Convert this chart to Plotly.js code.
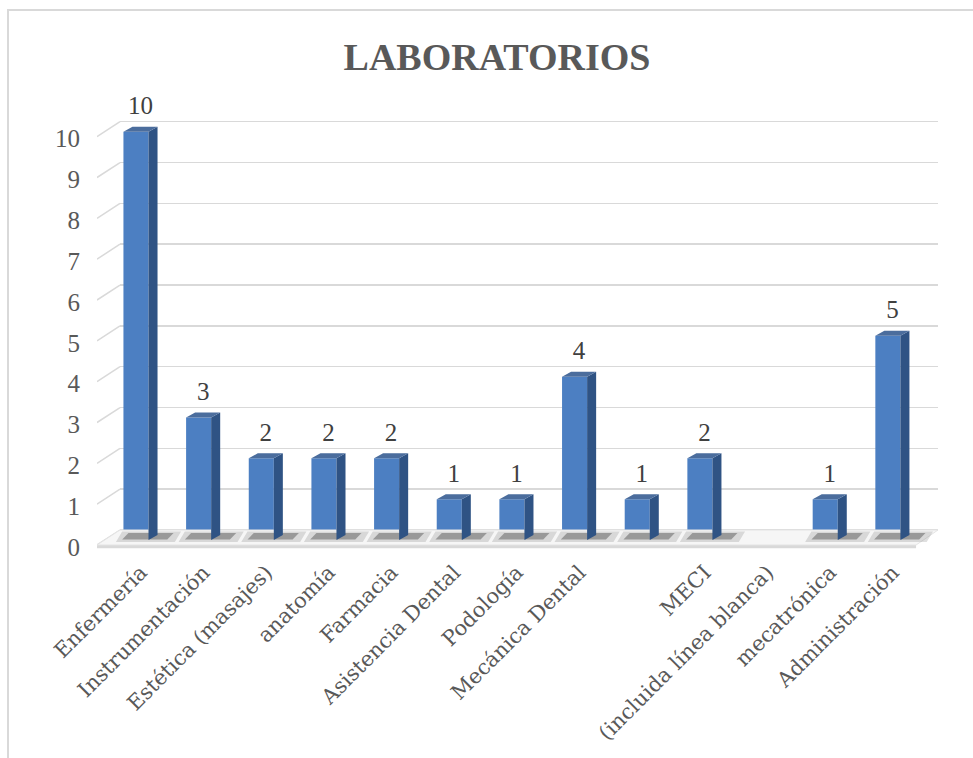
<!DOCTYPE html>
<html>
<head>
<meta charset="utf-8">
<script src="https://cdn.plot.ly/plotly-3.0.1.min.js"></script>
<style>
  html, body { margin: 0; padding: 0; background: #ffffff; }
  #wrap { position: relative; width: 973px; height: 758px; overflow: hidden; }
  #chart { position: absolute; left: 0; top: 0; width: 973px; height: 758px; }
  #frame { position: absolute; left: 7px; top: 9px; width: 1000px; height: 800px;
           border-left: 2px solid #d9d9d9; border-top: 2px solid #d9d9d9; pointer-events: none; }
</style>
</head>
<body>
<div id="wrap">
  <div id="chart"></div>
  <div id="frame"></div>
</div>
<script>
// ---- data ----
const categories = ["Enfermería", "Instrumentación", "Estética (masajes)", "anatomía", "Farmacia",
  "Asistencia Dental", "Podología", "Mecánica Dental", "", "MECI",
  "(incluida línea blanca)", "mecatrónica", "Administración"];
const values = [10, 3, 2, 2, 2, 1, 1, 4, 1, 2, null, 1, 5];
const yTicks = [0, 1, 2, 3, 4, 5, 6, 7, 8, 9, 10];
const chartTitle = "LABORATORIOS";

// ---- styling / geometry ----
const W = 973, H = 758;
const FONT = "Liberation Serif, DejaVu Serif, serif";
const CATFONT = "DejaVu Serif, Liberation Serif, serif";
const barW = 0.4;        // front face width (category units)
const dX = 0.144;        // 3D depth in x (category units)
const dY = 0.122;        // 3D depth in y (value units)
const gridShift = 0.245; // back wall offset (value units)
const lblLift = 0.15;    // extra gap above bar for value labels

const idx = categories.map((_, i) => i);
const px = p => p / W, py = p => 1 - p / H;

const xRange = [-0.622, 12.8];
const yRange = [-0.367, 10.776];
const yGridRange = [yRange[0] - gridShift, yRange[1] - gridShift];

// side & top faces, shadows, labels
const sideX = [], sideY = [], topX = [], topY = [], shX = [], shY = [], sh2X = [], sh2Y = [];
const lblX = [], lblY = [], lblT = [];
idx.forEach(i => {
  const v = values[i];
  if (v === null || v === undefined) return;
  const r = i + barW / 2, l = i - barW / 2;
  sideX.push(r, r + dX, r + dX, r, r, null);
  sideY.push(0, dY, v + dY, v, 0, null);
  topX.push(l, r, r + dX, l + dX, l, null);
  topY.push(v, v, v + dY, v + dY, v, null);
  shX.push(l - 0.02, r + 0.3, r + 0.4, l + 0.08, l - 0.02, null);
  shY.push(0.01, 0.01, 0.17, 0.17, 0.01, null);
  sh2X.push(l - 0.12, r + 0.42, r + 0.52, l - 0.02, l - 0.12, null);
  sh2Y.push(-0.05, -0.05, 0.21, 0.21, -0.05, null);
  lblX.push(i + dX / 2); lblY.push(v + dY + lblLift); lblT.push(String(v));
});

// slanted grid segments on the left wall
const slX = [], slY = [];
yTicks.forEach(v => { slX.push(-0.622, -0.255, null); slY.push(v - 0.122, v + gridShift, null); });

// floor
const floorX = [-0.622, 12.45, 12.8, -0.255, -0.622];
const floorY = [-0.122, -0.122, gridShift, gridShift, -0.122];
const edgeX = [-0.622, 12.45, 12.45, -0.622, -0.622];
const edgeY = [-0.122, -0.122, -0.2, -0.2, -0.122];

const skip = { hoverinfo: 'skip', showlegend: false, xaxis: 'x2', yaxis: 'y2' };
const traces = [
  { x: [0], y: [0], xaxis: 'x', yaxis: 'y', mode: 'markers', marker: { opacity: 0 }, hoverinfo: 'skip', showlegend: false },
  Object.assign({ x: slX, y: slY, mode: 'lines', line: { color: '#d9d9d9', width: 1.5 } }, skip),
  Object.assign({ x: edgeX, y: edgeY, mode: 'lines', fill: 'toself', fillcolor: '#d9d9d9', line: { width: 0 } }, skip),
  Object.assign({ x: floorX, y: floorY, mode: 'lines', fill: 'toself', fillcolor: '#f6f6f6', line: { color: '#e4e4e4', width: 1 } }, skip),
  Object.assign({ x: sh2X, y: sh2Y, mode: 'lines', fill: 'toself', fillcolor: 'rgba(110,110,110,0.22)', line: { width: 0 } }, skip),
  Object.assign({ x: shX, y: shY, mode: 'lines', fill: 'toself', fillcolor: 'rgba(60,60,60,0.40)', line: { width: 0 } }, skip),
  { type: 'bar', x: idx, y: values, width: barW, xaxis: 'x2', yaxis: 'y2',
    marker: { color: '#4c7fc2', line: { width: 0 } }, hoverinfo: 'x+y', showlegend: false },
  Object.assign({ x: sideX, y: sideY, mode: 'lines', fill: 'toself', fillcolor: '#2f5384', line: { width: 0 } }, skip),
  Object.assign({ x: topX, y: topY, mode: 'lines', fill: 'toself', fillcolor: '#4b6d9d', line: { width: 0 } }, skip),
  Object.assign({ x: lblX, y: lblY, text: lblT, mode: 'text', textposition: 'top center', cliponaxis: false,
    textfont: { family: FONT, size: 25, color: '#404040' } }, skip)
];

const layout = {
  width: W, height: H,
  margin: { l: 0, r: 0, t: 0, b: 0 },
  paper_bgcolor: 'rgba(0,0,0,0)', plot_bgcolor: 'rgba(0,0,0,0)',
  showlegend: false,
  title: { text: chartTitle, x: 497 / W, xref: 'container', xanchor: 'center',
           y: py(57), yref: 'container', yanchor: 'middle',
           font: { family: FONT, size: 38, color: '#595959', weight: 'bold' } },
  xaxis: { domain: [px(120), px(938)], range: [0, 1], visible: false, fixedrange: true },
  yaxis: { domain: [py(555), py(100)], range: yGridRange, tickvals: yTicks, showticklabels: false,
           showgrid: true, gridcolor: '#d9d9d9', gridwidth: 1.5, zeroline: false, showline: false, ticks: '', fixedrange: true },
  xaxis2: { domain: [px(97), px(938)], range: xRange, anchor: 'y2',
            tickmode: 'array', tickvals: idx, ticktext: categories, tickangle: -45,
            tickfont: { family: CATFONT, size: 21, color: '#595959' },
            showgrid: false, zeroline: false, showline: false, ticks: '', automargin: false,
            ticklabelshift: 5, ticklabelstandoff: 0, fixedrange: true },
  yaxis2: { domain: [py(555), py(100)], range: yRange, anchor: 'x2',
            tickmode: 'array', tickvals: yTicks, ticktext: yTicks.map(String),
            tickfont: { family: FONT, size: 25, color: '#595959' },
            showgrid: false, zeroline: false, showline: false, ticks: '', automargin: false,
            ticklabelstandoff: 16, ticklabelshift: 7, fixedrange: true }
};

Plotly.newPlot('chart', traces, layout, { displayModeBar: false, staticPlot: true });
</script>
</body>
</html>
